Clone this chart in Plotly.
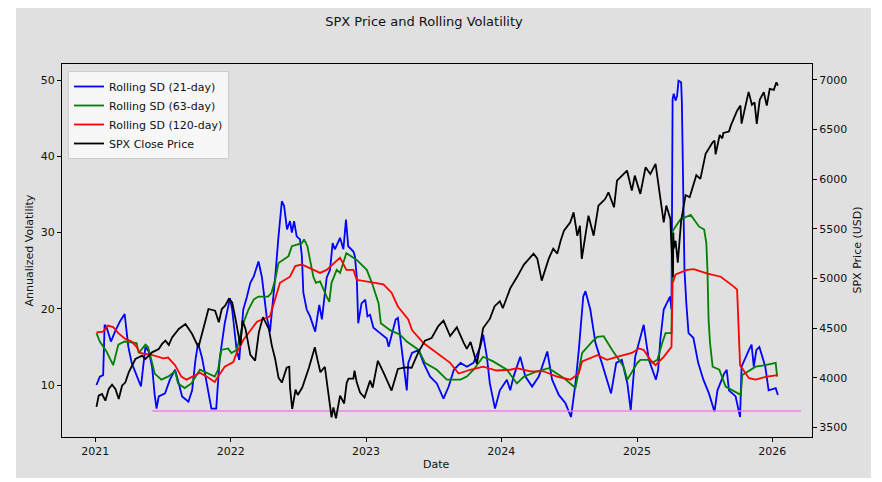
import plotly.graph_objects as go

# ---------------- data ----------------
BLUE_DATES = ["2021-01-04","2021-01-13","2021-01-22","2021-01-26","2021-01-31","2021-02-12","2021-02-23","2021-03-08","2021-03-21","2021-03-31",
"2021-04-09","2021-04-27","2021-05-04","2021-05-10","2021-05-16","2021-05-25","2021-06-03","2021-06-10","2021-06-15","2021-06-21",
"2021-07-08","2021-07-21","2021-08-04","2021-08-14","2021-08-23","2021-09-09","2021-09-19","2021-09-28","2021-10-05","2021-10-16",
"2021-10-28","2021-11-10","2021-11-23","2021-12-02","2021-12-16","2021-12-30","2022-01-05","2022-01-12","2022-01-17","2022-01-24",
"2022-02-04","2022-02-14","2022-02-23","2022-03-04","2022-03-17","2022-03-26","2022-04-08","2022-04-17","2022-04-24","2022-05-01",
"2022-05-10","2022-05-19","2022-05-25","2022-06-02","2022-06-10","2022-06-15","2022-06-21","2022-06-28","2022-07-07","2022-07-12",
"2022-07-16","2022-07-25","2022-08-03","2022-08-17","2022-08-23","2022-08-28","2022-09-04","2022-09-10","2022-09-17","2022-09-26",
"2022-10-03","2022-10-09","2022-10-23","2022-11-01","2022-11-08","2022-11-14","2022-11-28","2022-12-02","2022-12-07","2022-12-11",
"2022-12-20","2022-12-30","2023-01-05","2023-01-12","2023-01-21","2023-02-08","2023-02-26","2023-03-03","2023-03-08","2023-03-22",
"2023-03-28","2023-04-07","2023-04-21","2023-04-25","2023-05-05","2023-05-23","2023-06-05","2023-06-23","2023-07-11","2023-07-29",
"2023-08-12","2023-08-26","2023-09-13","2023-09-30","2023-10-18","2023-11-05","2023-11-13","2023-11-23","2023-12-01","2023-12-15",
"2023-12-28","2024-01-16","2024-01-25","2024-02-03","2024-02-21","2024-03-06","2024-03-24","2024-04-11","2024-05-04","2024-05-17",
"2024-06-04","2024-06-22","2024-07-07","2024-07-19","2024-07-28","2024-08-09","2024-08-15","2024-08-28","2024-09-11","2024-09-28",
"2024-10-23","2024-11-06","2024-11-21","2024-12-06","2024-12-15","2024-12-27","2025-01-10","2025-01-19","2025-01-29","2025-02-02",
"2025-02-21","2025-02-27","2025-03-05","2025-03-14","2025-03-31","2025-04-04","2025-04-07","2025-04-10","2025-04-15","2025-04-19",
"2025-04-23","2025-04-30","2025-05-02","2025-05-05","2025-05-09","2025-05-14","2025-05-20","2025-06-02","2025-06-15","2025-06-29",
"2025-07-14","2025-07-29","2025-08-06","2025-08-24","2025-08-31","2025-09-06","2025-09-24","2025-10-06","2025-10-10","2025-10-30",
"2025-11-06","2025-11-12","2025-11-19","2025-11-27","2025-12-13","2025-12-22","2026-01-10","2026-01-16"]
BLUE_VALUES = [10.0,11.1,11.3,17.9,17.6,15.7,17.0,18.3,19.3,15.0,
12.9,10.7,9.8,12.4,15.0,14.4,12.4,8.7,6.9,8.5,
8.9,10.7,12.0,10.2,8.5,7.8,9.3,13.3,15.5,13.5,
10.2,6.9,6.9,13.3,18.1,21.4,19.9,16.4,14.6,13.3,
19.9,21.6,23.4,24.2,26.2,24.2,19.0,17.0,20.3,24.1,
29.5,34.1,33.5,30.4,31.5,30.0,31.5,29.5,29.1,26.9,
22.1,19.9,19.0,17.0,19.0,20.5,18.6,21.6,24.1,25.1,
28.6,27.8,29.3,27.8,31.7,28.2,27.5,26.9,24.2,18.1,
20.7,21.2,19.0,19.2,17.5,16.8,16.1,15.0,15.9,18.6,
18.8,14.6,9.3,12.9,14.2,14.6,12.9,11.1,10.2,8.2,
9.8,12.0,12.9,12.4,12.9,15.0,16.6,13.7,10.2,6.9,
9.3,10.7,9.3,11.1,13.7,11.1,9.8,11.1,14.4,10.7,
8.7,7.6,5.8,10.2,14.6,21.6,22.3,19.9,15.5,12.9,
8.9,12.9,13.3,10.2,6.7,13.7,16.2,17.9,14.6,13.3,
10.7,12.0,16.0,19.9,21.6,19.9,47.5,48.2,47.3,47.9,
49.9,49.7,47.1,38.3,25.1,20.7,16.8,16.2,12.9,10.7,
8.9,6.5,9.3,11.5,12.0,9.3,8.5,5.8,12.4,14.6,
15.3,12.4,14.6,15.0,12.4,9.3,9.6,8.7]

GREEN_DATES = ["2021-01-04","2021-01-13","2021-01-31","2021-02-18","2021-03-04","2021-03-21","2021-04-22","2021-04-28","2021-05-16","2021-05-23",
"2021-06-01","2021-06-10","2021-06-28","2021-07-16","2021-08-04","2021-08-12","2021-08-30","2021-09-17","2021-10-10","2021-11-01",
"2021-11-19","2021-11-28","2021-12-07","2021-12-25","2022-01-03","2022-01-17","2022-02-04","2022-02-18","2022-03-04","2022-03-17",
"2022-04-12","2022-04-21","2022-05-01","2022-05-10","2022-06-06","2022-06-15","2022-07-12","2022-07-18","2022-07-27","2022-08-03",
"2022-08-12","2022-08-19","2022-08-30","2022-09-17","2022-09-24","2022-09-30","2022-10-14","2022-10-23","2022-11-09","2022-12-07",
"2023-01-03","2023-01-17","2023-01-30","2023-02-04","2023-02-10","2023-03-07","2023-04-03","2023-04-21","2023-05-23","2023-06-09",
"2023-07-11","2023-08-07","2023-09-13","2023-09-30","2023-10-18","2023-11-13","2023-12-10","2024-01-16","2024-02-12","2024-03-02",
"2024-04-07","2024-05-08","2024-06-18","2024-07-19","2024-08-06","2024-09-02","2024-09-16","2024-10-03","2024-10-26","2024-11-26",
"2024-12-06","2025-01-02","2025-01-10","2025-02-06","2025-02-11","2025-02-25","2025-03-10","2025-03-19","2025-04-04","2025-04-07",
"2025-04-28","2025-05-26","2025-06-17","2025-07-01","2025-07-07","2025-07-10","2025-07-13","2025-07-17","2025-07-24","2025-08-11",
"2025-08-28","2025-10-08","2025-10-12","2025-11-17","2025-12-13","2026-01-10","2026-01-14"]
GREEN_VALUES = [16.8,15.7,14.4,12.6,15.3,15.7,15.5,14.2,15.3,15.0,
13.3,11.5,10.7,11.1,11.8,10.2,9.6,10.2,12.0,11.5,
11.1,12.0,14.6,14.8,14.2,14.6,18.1,19.9,21.2,21.6,
21.6,22.1,23.8,26.0,26.9,28.2,28.6,29.1,28.2,26.4,
24.2,23.4,23.6,21.6,20.9,23.4,25.1,24.7,27.3,26.4,
25.1,23.4,21.6,20.7,18.1,17.2,16.6,15.7,14.6,12.9,
12.0,10.7,10.7,11.1,12.0,13.7,13.1,12.0,10.2,11.1,
11.8,12.2,10.9,9.6,14.2,15.7,16.3,16.4,14.6,12.4,
10.7,12.9,13.3,13.3,12.9,13.3,15.5,16.8,16.8,30.2,
31.7,32.3,30.8,30.4,28.6,25.1,18.6,15.5,12.4,12.0,
9.8,8.7,11.3,12.4,12.6,12.9,11.1]

RED_DATES = ["2021-01-04","2021-01-22","2021-02-04","2021-02-18","2021-03-04","2021-03-21","2021-04-09","2021-04-22","2021-05-01","2021-06-06",
"2021-07-03","2021-07-16","2021-08-04","2021-08-21","2021-09-04","2021-09-17","2021-10-10","2021-10-28","2021-11-19","2021-11-28",
"2021-12-16","2022-01-08","2022-01-17","2022-02-04","2022-02-23","2022-03-13","2022-04-17","2022-05-01","2022-05-14","2022-06-10",
"2022-06-24","2022-07-12","2022-08-12","2022-08-30","2022-09-17","2022-10-14","2022-10-23","2022-11-09","2022-11-28","2022-12-07",
"2023-01-03","2023-02-17","2023-03-11","2023-03-28","2023-04-25","2023-05-05","2023-06-05","2023-07-11","2023-08-16","2023-09-08",
"2023-10-09","2023-11-13","2023-12-19","2024-01-25","2024-02-12","2024-03-19","2024-04-24","2024-05-30","2024-07-05","2024-07-28",
"2024-08-06","2024-09-16","2024-10-12","2024-11-08","2024-12-18","2025-01-06","2025-01-19","2025-02-06","2025-02-20","2025-03-14",
"2025-04-04","2025-04-07","2025-04-15","2025-05-16","2025-06-03","2025-07-10","2025-08-15","2025-09-19","2025-09-28","2025-10-06",
"2025-10-30","2025-11-17","2025-12-17","2026-01-16"]
RED_VALUES = [16.9,17.0,17.8,17.6,16.8,16.1,15.7,15.0,14.2,13.9,
13.5,13.6,12.6,11.1,10.7,11.0,11.6,11.1,10.4,11.1,
12.4,13.0,14.2,15.9,17.2,18.3,19.0,21.2,23.4,24.2,
25.6,25.8,25.1,24.7,25.1,26.4,26.7,25.1,25.1,23.8,
23.6,23.2,22.1,20.3,18.6,17.2,15.5,14.2,12.9,11.5,
12.0,12.4,11.9,12.0,12.2,11.8,11.8,11.1,10.7,11.5,
13.1,13.9,13.3,13.7,14.2,14.8,14.6,13.3,12.6,13.7,
15.0,23.4,24.5,25.1,25.2,24.6,24.2,22.9,22.5,12.6,
10.9,10.7,11.1,11.3]

SPX_DATES = ["2021-01-04","2021-01-10","2021-01-19","2021-01-28","2021-02-06","2021-02-15","2021-02-24","2021-03-05","2021-03-14","2021-03-23",
"2021-04-01","2021-04-10","2021-04-19","2021-05-07","2021-05-16","2021-06-03","2021-06-21","2021-06-30","2021-07-09","2021-07-18",
"2021-07-27","2021-08-14","2021-09-01","2021-09-19","2021-09-28","2021-10-06","2021-10-24","2021-11-02","2021-11-20","2021-11-30",
"2021-12-08","2021-12-17","2021-12-27","2022-01-05","2022-01-14","2022-01-27","2022-02-02","2022-02-10","2022-02-23","2022-03-08",
"2022-03-18","2022-03-29","2022-04-14","2022-04-22","2022-05-01","2022-05-10","2022-05-19","2022-06-01","2022-06-08","2022-06-10",
"2022-06-16","2022-06-25","2022-07-01","2022-07-13","2022-07-31","2022-08-16","2022-08-22","2022-08-31","2022-09-12","2022-09-23",
"2022-09-30","2022-10-05","2022-10-12","2022-10-23","2022-11-03","2022-11-10","2022-11-15","2022-11-28","2022-12-01","2022-12-07",
"2022-12-16","2022-12-28","2023-01-12","2023-01-19","2023-02-02","2023-02-17","2023-03-11","2023-03-28","2023-04-16","2023-05-04",
"2023-05-22","2023-06-09","2023-06-27","2023-07-15","2023-07-29","2023-08-16","2023-09-03","2023-09-21","2023-09-30","2023-10-10",
"2023-10-27","2023-11-13","2023-12-01","2023-12-14","2023-12-28","2024-01-05","2024-01-25","2024-02-12","2024-03-02","2024-03-28",
"2024-04-07","2024-04-19","2024-05-08","2024-05-20","2024-05-31","2024-06-09","2024-06-18","2024-07-05","2024-07-14","2024-07-24",
"2024-07-31","2024-08-05","2024-08-23","2024-09-06","2024-09-19","2024-10-07","2024-10-16","2024-10-31","2024-11-08","2024-12-05",
"2024-12-18","2024-12-26","2025-01-10","2025-01-24","2025-02-06","2025-02-20","2025-03-03","2025-03-14","2025-03-21","2025-04-01",
"2025-04-03","2025-04-08","2025-04-09","2025-04-10","2025-04-15","2025-04-21","2025-04-30","2025-05-12","2025-05-23","2025-06-03",
"2025-06-10","2025-06-21","2025-07-05","2025-07-24","2025-07-29","2025-08-01","2025-08-12","2025-08-19","2025-08-22","2025-09-06",
"2025-09-11","2025-09-28","2025-10-07","2025-10-10","2025-10-21","2025-10-29","2025-11-07","2025-11-14","2025-11-20","2025-11-28",
"2025-12-09","2025-12-17","2025-12-25","2026-01-05","2026-01-12","2026-01-16"]
SPX_VALUES = [3705,3819,3835,3768,3886,3930,3886,3785,3919,3953,
4054,4121,4188,4222,4188,4255,4289,4340,4373,4330,
4406,4491,4541,4440,4370,4306,4560,4692,4675,4558,
4692,4726,4793,4759,4592,4326,4575,4491,4230,4171,
4457,4610,4491,4323,4188,4000,3950,4100,4110,3900,
3684,3880,3825,3900,4100,4306,4200,4054,4110,3785,
3600,3700,3590,3819,3740,3950,3990,3990,4071,3953,
3850,3800,3970,3900,4170,4054,3870,4088,4104,4100,
4255,4373,4400,4520,4575,4420,4507,4356,4290,4360,
4140,4500,4592,4720,4770,4700,4900,5011,5140,5250,
5200,4978,5200,5300,5250,5380,5482,5566,5666,5430,
5530,5196,5633,5431,5734,5800,5868,5717,5986,6087,
5885,6036,5852,6120,6053,6154,5868,5566,5734,5600,
5400,5011,5460,5300,5380,5160,5580,5840,5818,5969,
6040,6003,6255,6372,6389,6250,6445,6411,6466,6480,
6540,6691,6742,6560,6742,6880,6750,6775,6557,6800,
6876,6742,6910,6900,6977,6943]

PINK_DATES = ["2021-06-03", "2026-03-19"]
PINK_LEVEL = [6.6, 6.6]

YEAR_TICKS = ["2021-01-01","2022-01-01","2023-01-01","2024-01-01","2025-01-01","2026-01-01"]
YEAR_LABELS = ["2021","2022","2023","2024","2025","2026"]
VOL_TICKS = [10, 20, 30, 40, 50]
PRICE_TICKS = [3500, 4000, 4500, 5000, 5500, 6000, 6500, 7000]

# ---------------- geometry ----------------
# the page body has an 8px margin, so the figure is placed 8px in from the window edge
OFF = 8
W, H = 882 - OFF, 482 - OFF
ML, MR = 62 - OFF, 882 - 812
MT, MB = 64 - OFF, 482 - 437
PW, PH = W - ML - MR, H - MT - MB
def px(xp):  # reference window pixel -> paper x
    return (xp - OFF - ML) / PW
def py(yp):  # reference window pixel -> paper y
    return (H - MB - (yp - OFF)) / PH

FONT = "DejaVu Sans"
GREY = "#e0e0e0"
TXT = "#111111"
LW = 1.8

fig = go.Figure()
fig.add_trace(go.Scatter(x=BLUE_DATES, y=BLUE_VALUES, mode="lines", name="Rolling SD (21-day)",
                         line=dict(color="#0000ff", width=LW), yaxis="y"))
fig.add_trace(go.Scatter(x=GREEN_DATES, y=GREEN_VALUES, mode="lines", name="Rolling SD (63-day)",
                         line=dict(color="#008000", width=LW), yaxis="y"))
fig.add_trace(go.Scatter(x=RED_DATES, y=RED_VALUES, mode="lines", name="Rolling SD (120-day)",
                         line=dict(color="#ff0000", width=LW), yaxis="y"))
fig.add_trace(go.Scatter(x=PINK_DATES, y=PINK_LEVEL, mode="lines", showlegend=False,
                         line=dict(color="#ee82ee", width=1.5), yaxis="y"))
fig.add_trace(go.Scatter(x=SPX_DATES, y=SPX_VALUES, mode="lines", name="SPX Close Price",
                         line=dict(color="#000000", width=LW), yaxis="y2"))

axis_common = dict(showline=True, linecolor="black", linewidth=1, ticks="outside",
                   ticklen=4, tickcolor="black", tickwidth=1, showgrid=False, zeroline=False,
                   automargin=False, tickfont=dict(family=FONT, size=11, color=TXT))

shapes = [
    dict(type="rect", xref="paper", yref="paper", x0=px(16), x1=px(871), y0=py(478), y1=py(8),
         fillcolor=GREY, line=dict(width=0), layer="below"),
    dict(type="line", xref="paper", yref="paper", x0=px(876), x1=px(876), y0=py(482), y1=py(8),
         line=dict(color="#c8c8c8", width=1)),
]

annotations = [
    dict(text="Date", xref="paper", yref="paper", x=px(436.5), y=py(464), showarrow=False,
         xanchor="center", yanchor="middle", font=dict(family=FONT, size=11, color=TXT)),
    dict(text="Annualized Volatility", xref="paper", yref="paper", x=px(29), y=0.5, showarrow=False,
         textangle=-90, xanchor="center", yanchor="middle", font=dict(family=FONT, size=11, color=TXT)),
    dict(text="SPX Price (USD)", xref="paper", yref="paper", x=px(857), y=0.5, showarrow=False,
         textangle=-90, xanchor="center", yanchor="middle", font=dict(family=FONT, size=11, color=TXT)),
]

fig.update_layout(
    width=W, height=H,
    margin=dict(l=ML, r=MR, t=MT, b=MB, autoexpand=False),
    paper_bgcolor="white", plot_bgcolor=GREY,
    font=dict(family=FONT, size=11, color=TXT),
    title=dict(text="SPX Price and Rolling Volatility", xref="container", yref="container",
               x=(424 - OFF) / W, y=1 - (21 - OFF) / H, xanchor="center", yanchor="middle",
               font=dict(family=FONT, size=13, color=TXT)),
    xaxis=dict(type="date", domain=[0, 1], range=["2020-10-03", "2026-04-18"], tickvals=YEAR_TICKS,
               ticktext=YEAR_LABELS, mirror=True, **axis_common),
    yaxis=dict(range=[3.18, 52.1], tickvals=VOL_TICKS, mirror=True, **axis_common),
    yaxis2=dict(range=[3402, 7161], tickvals=PRICE_TICKS, overlaying="y", side="right",
                anchor="x", **axis_common),
    legend=dict(x=px(68), y=py(71), xanchor="left", yanchor="top",
                bgcolor="rgba(250,250,250,0.85)", bordercolor="#cccccc", borderwidth=1,
                font=dict(family=FONT, size=11, color=TXT), itemwidth=30),
    shapes=shapes, annotations=annotations,
    showlegend=True,
)

fig.write_html("out.html")
